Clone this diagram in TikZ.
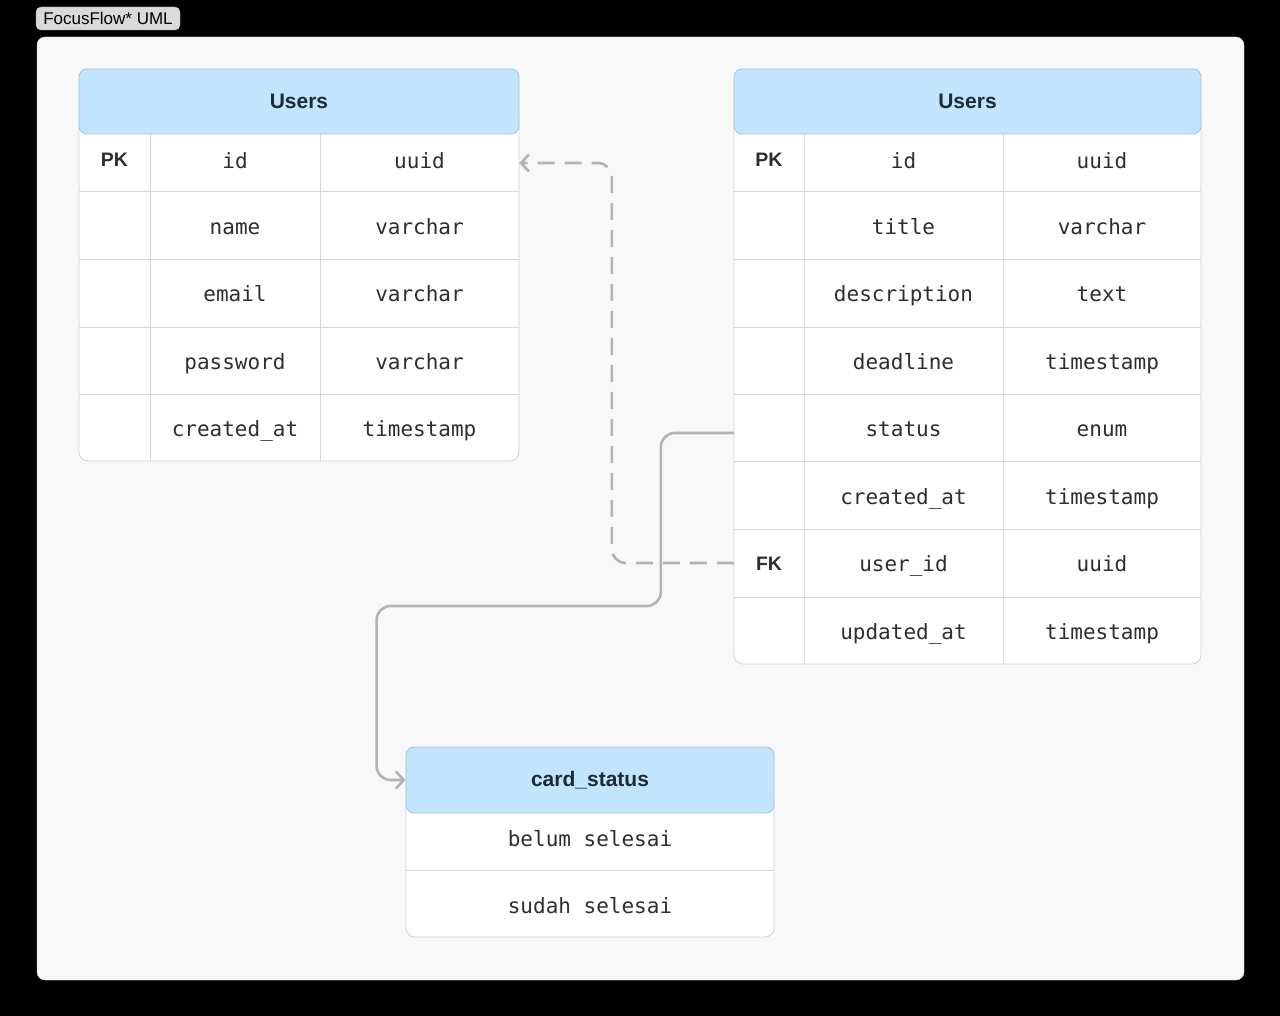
\documentclass[tikz,border=0pt]{standalone}
\usepackage{fontspec}
\setmainfont{Liberation Sans}
\setmonofont{DejaVu Sans Mono}
\usetikzlibrary{arrows.meta}
\definecolor{canvas}{HTML}{F8F8F8}
\definecolor{rim}{HTML}{D2D2D2}
\definecolor{grid}{HTML}{D6D6D6}
\definecolor{headfill}{HTML}{C3E4FD}
\definecolor{headrim}{HTML}{9FC3DD}
\definecolor{link}{HTML}{B3B3B3}
\definecolor{ink}{HTML}{2E2E2E}
\definecolor{headink}{HTML}{1F2A37}
\definecolor{tagfill}{HTML}{DADADA}
\tikzset{
  tagbox/.style={fill=tagfill, draw=tagfill!85!black, rounded corners=5pt, minimum width=144pt, minimum height=23pt, inner sep=0pt, font=\fontsize{17}{20}\selectfont},
  tabbody/.style={draw=rim, fill=white, line width=0.8pt, rounded corners=9pt},
  tabgrid/.style={draw=grid, line width=0.8pt},
  tabhead/.style={draw=headrim, fill=headfill, line width=0.8pt, rounded corners=8pt, text=headink, font=\fontsize{21}{25}\selectfont\bfseries},
  keycell/.style={inner sep=0pt, text=ink, text height=14pt, text depth=0pt, minimum height=56pt, font=\fontsize{19.5}{23}\selectfont\bfseries},
  field/.style={inner sep=0pt, text=ink, text height=20pt, text depth=3pt, font=\ttfamily\fontsize{21}{24}\selectfont},
  fklink/.style={draw=link, line width=2.6pt, dash pattern=on 17pt off 10pt, rounded corners=14pt, -{Straight Barb[length=8pt,width=17pt]}},
  enumlink/.style={draw=link, line width=2.6pt, rounded corners=14pt, -{Straight Barb[length=8pt,width=17pt]}}
}
\begin{document}
\begin{tikzpicture}[x=1pt,y=-1pt]
\fill[black] (0,0) rectangle (1280,1016);
\useasboundingbox (0,0) rectangle (1280,1016);
\node[tagbox] (tag) at (108,18.5) {FocusFlow* UML};
\draw[draw=rim, fill=canvas, rounded corners=8pt] (37,37) rectangle (1244,980);

%USERS (left)
\draw[tabbody] (79,110) rectangle (519,461);
\foreach \y in {191,259,327,394} \draw[tabgrid] (79,\y) -- (519,\y);
\draw[tabgrid] (150,134) -- (150,461) (320,134) -- (320,461);
\node[tabhead, minimum width=440pt, minimum height=65pt] (lhead) at (299,101.5) {Users};
\foreach \y/\k/\n/\t [count=\i] in {160/PK/id/uuid, 226/{}/name/varchar, 293/{}/email/varchar,
    361/{}/password/varchar, 428/{}/created\_at/timestamp} {
  \node[keycell, minimum width=71pt] (lk\i) at (114.5,\y) {\k};
  \node[field] (ln\i) at (235,\y) {\n};
  \node[field, minimum width=199pt] (lt\i) at (419.5,\y) {\t};
}

%USERS (right)
\draw[tabbody] (734,110) rectangle (1201,664);
\foreach \y in {191,259,327,394,461,529,597} \draw[tabgrid] (734,\y) -- (1201,\y);
\draw[tabgrid] (804,134) -- (804,664) (1003,134) -- (1003,664);
\node[tabhead, minimum width=467pt, minimum height=65pt] (rhead) at (967.5,101.5) {Users};
\foreach \y/\k/\n/\t [count=\i] in {160/PK/id/uuid, 226/{}/title/varchar, 293/{}/description/text,
    361/{}/deadline/timestamp, 428/{}/status/enum, 496/{}/created\_at/timestamp,
    563/FK/user\_id/uuid, 631/{}/updated\_at/timestamp} {
  \node[keycell, minimum width=70pt] (rk\i) at (769,\y) {\k};
  \node[field] (rn\i) at (903.5,\y) {\n};
  \node[field] (rt\i) at (1102,\y) {\t};
}

%CARD_STATUS
\draw[tabbody] (406,790) rectangle (774,937);
\draw[tabgrid] (406,870) -- (774,870);
\node[tabhead, minimum width=368pt, minimum height=66pt] (chead) at (590,780) {card\_status};
\node[field] (c1) at (590,838) {belum selesai};
\node[field] (c2) at (590,905) {sudah selesai};

%LINKS
\draw[fklink] (rk7.west) -- ++(-122,0) |- ([yshift=-3pt]lt1.east);
\draw[enumlink] ([yshift=-5pt]rk5.west) -- ++(-73,0) -- ++(0,173)
  -| ([xshift=-29pt]chead.west) -- (chead.west);
\end{tikzpicture}
\end{document}
